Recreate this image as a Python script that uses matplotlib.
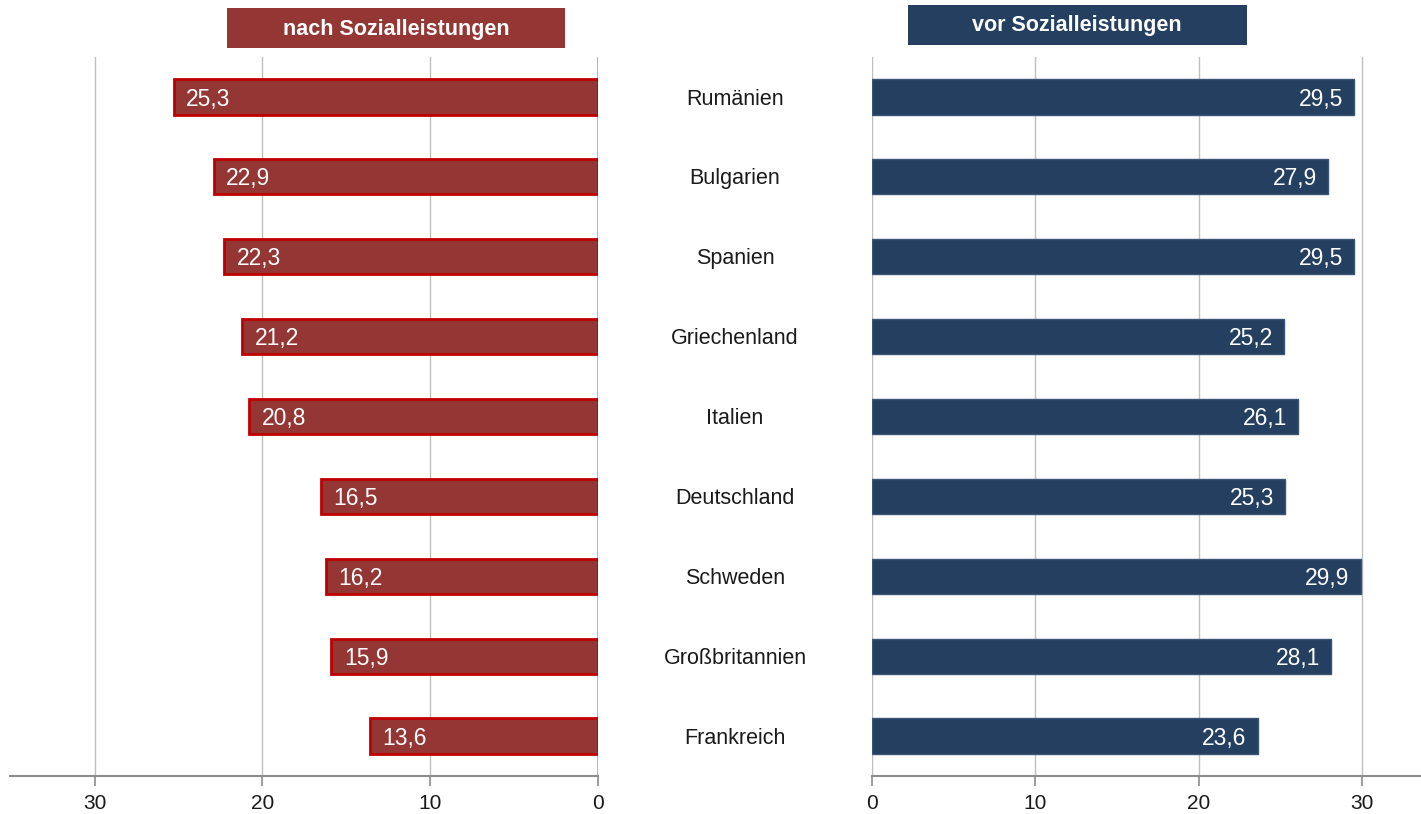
import numpy as np
import matplotlib.pyplot as plt
from matplotlib.patches import Rectangle

plt.rcParams["font.family"] = ["Liberation Sans", "DejaVu Sans"]

# Data
countries = ["Rumänien", "Bulgarien", "Spanien", "Griechenland", "Italien",
             "Deutschland", "Schweden", "Großbritannien", "Frankreich"]
nach = [25.3, 22.9, 22.3, 21.2, 20.8, 16.5, 16.2, 15.9, 13.6]
vor = [29.5, 27.9, 29.5, 25.2, 26.1, 25.3, 29.9, 28.1, 23.6]
ticks = [0, 10, 20, 30]
title_left = "nach Sozialleistungen"
title_right = "vor Sozialleistungen"

red_face = "#943634"
red_edge = "#C00000"
navy_face = "#243F60"
navy_edge = "#3B5577"
grid_col = "#BFBFBF"
axis_col = "#8C8C8C"

fig = plt.figure(figsize=(14.21, 8.14), dpi=100)
ax_l = fig.add_axes([10 / 1421, 38 / 814, 588 / 1421, 719 / 814])
ax_r = fig.add_axes([872 / 1421, 38 / 814, 549 / 1421, 719 / 814])

y = np.arange(len(countries))

ax_l.barh(y, nach, height=0.44, color=red_face, edgecolor=red_edge, linewidth=2, zorder=3)
ax_r.barh(y, vor, height=0.44, color=navy_face, edgecolor=navy_edge, linewidth=1, zorder=3)

ax_l.set_xlim(35.05, 0)
ax_r.set_xlim(0, 33.6)

for ax in (ax_l, ax_r):
    ax.set_ylim(len(countries) - 0.5, -0.5)
    ax.set_xticks(ticks)
    ax.set_yticks([])
    ax.grid(axis="x", color=grid_col, linewidth=1, zorder=0)
    for s in ("top", "left", "right"):
        ax.spines[s].set_visible(False)
    ax.spines["bottom"].set_color(axis_col)
    ax.spines["bottom"].set_linewidth(1.5)
    ax.tick_params(axis="x", length=7, width=1.2, color=axis_col, labelsize=15,
                   pad=6, labelcolor="#1A1A1A")
    ax.axvline(0, color="#A6A6A6", linewidth=1.2, zorder=1)
    ax.set_facecolor("none")

for i, v in enumerate(nach):
    ax_l.annotate(f"{v:.1f}".replace(".", ","), (v, i), xytext=(9, -1.5),
                  textcoords="offset points", ha="left", va="center",
                  color="white", fontsize=16.5, zorder=4)

for i, v in enumerate(vor):
    ax_r.annotate(f"{v:.1f}".replace(".", ","), (v, i), xytext=(-8, -1.5),
                  textcoords="offset points", ha="right", va="center",
                  color="white", fontsize=16.5, zorder=4)

for i, c in enumerate(countries):
    ax_r.annotate(c, (735 / 1421, i), xycoords=("figure fraction", "data"),
                  xytext=(0, -1.5), textcoords="offset points",
                  ha="center", va="center", fontsize=15.5, color="#1A1A1A")

# header boxes
fig.patches.append(Rectangle((227 / 1421, (814 - 48) / 814), 338 / 1421, 40 / 814,
                             transform=fig.transFigure, facecolor=red_face,
                             edgecolor="none"))
fig.text(396 / 1421, (814 - 29) / 814, title_left, ha="center", va="center",
         color="white", fontsize=15.5, fontweight="bold")
fig.patches.append(Rectangle((908 / 1421, (814 - 45) / 814), 339 / 1421, 40 / 814,
                             transform=fig.transFigure, facecolor=navy_face,
                             edgecolor="none"))
fig.text(1077 / 1421, (814 - 26) / 814, title_right, ha="center", va="center",
         color="white", fontsize=15.5, fontweight="bold")

fig.savefig("out.png", dpi=100)
